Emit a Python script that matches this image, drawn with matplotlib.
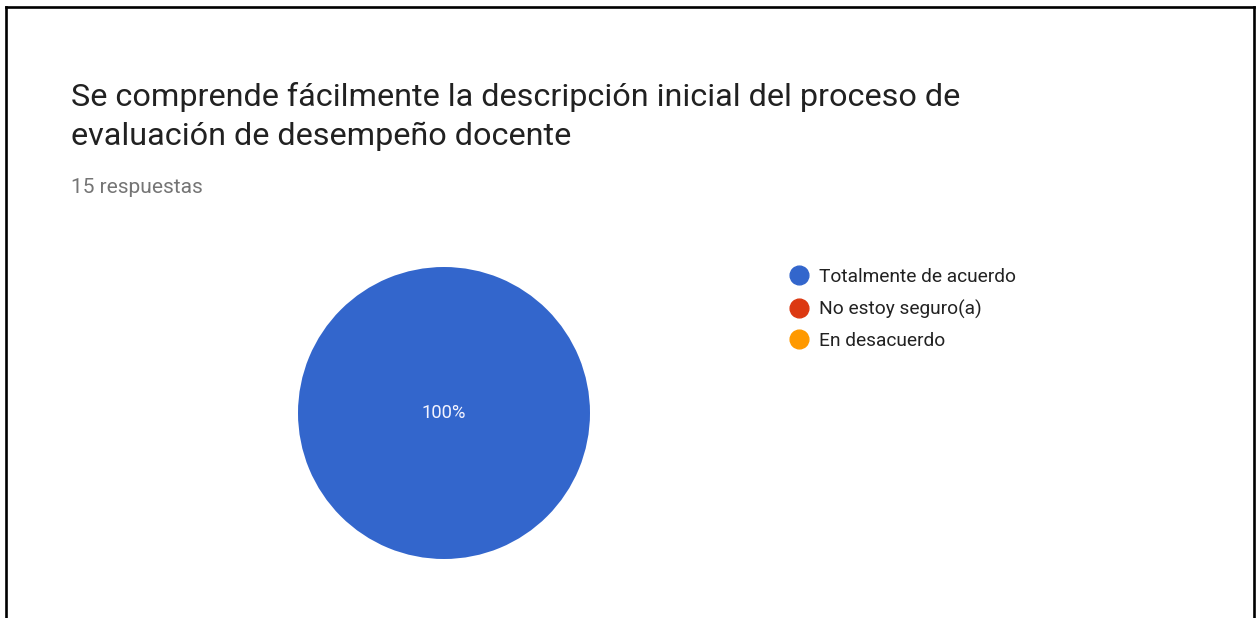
import matplotlib
matplotlib.use("Agg")
import matplotlib.pyplot as plt
from matplotlib.lines import Line2D

plt.rcParams["font.family"] = ["Roboto", "DejaVu Sans"]

# data
title = "Se comprende fácilmente la descripción inicial del proceso de\nevaluación de desempeño docente"
subtitle = "15 respuestas"
labels = ["Totalmente de acuerdo", "No estoy seguro(a)", "En desacuerdo"]
counts = [15, 0, 0]
colors = ["#3366cc", "#dc3912", "#ff9900"]

W, H = 1257, 618
fig = plt.figure(figsize=(W / 100, H / 100), dpi=100)
fig.patch.set_facecolor("white")

def fx(px):
    return px / W

def fy(py):
    return 1 - py / H

# frame around the card (no bottom edge, it is cut off)
for xs, ys in [([6.3, 6.3], [H + 5, 7]), ([6.3, 1254.3], [7, 7]), ([1254.3, 1254.3], [7, H + 5])]:
    fig.add_artist(Line2D([fx(x) for x in xs], [fy(y) for y in ys],
                          color="black", linewidth=1.9, transform=fig.transFigure))

# baseline of the last title line
fig.text(fx(71), fy(145), title, fontsize=23.3, color="#212121",
         ha="left", va="baseline", linespacing=1.4)
fig.text(fx(71), fy(193), subtitle, fontsize=15, color="#757575",
         ha="left", va="baseline")

# pie
cx, cy, r = 444, 413, 146
ax = fig.add_axes([fx(cx - r), fy(cy + r), 2 * r / W, 2 * r / H])

def pct(p):
    return f"{p:.0f}%" if p > 0 else ""

wedges, texts, autotexts = ax.pie(counts, colors=colors, startangle=90, counterclock=False,
                                  autopct=pct, pctdistance=0.0,
                                  wedgeprops=dict(linewidth=0),
                                  textprops=dict(color="#f4f4ff", fontsize=13.2))
ax.set_xlim(-1, 1)
ax.set_ylim(-1, 1)
ax.set_aspect("equal")
ax.axis("off")

handles = [Line2D([], [], marker="o", linestyle="none", markersize=13.5,
                  markerfacecolor=c, markeredgecolor=c) for c in colors]
fig.legend(handles, labels, loc="upper left", bbox_to_anchor=(fx(787), fy(268)),
           frameon=False, fontsize=13.8, handletextpad=0.45, labelspacing=0.7,
           handlelength=1.2, borderaxespad=0, borderpad=0, labelcolor="#222222")

fig.savefig("out.png", dpi=100, facecolor="white")
